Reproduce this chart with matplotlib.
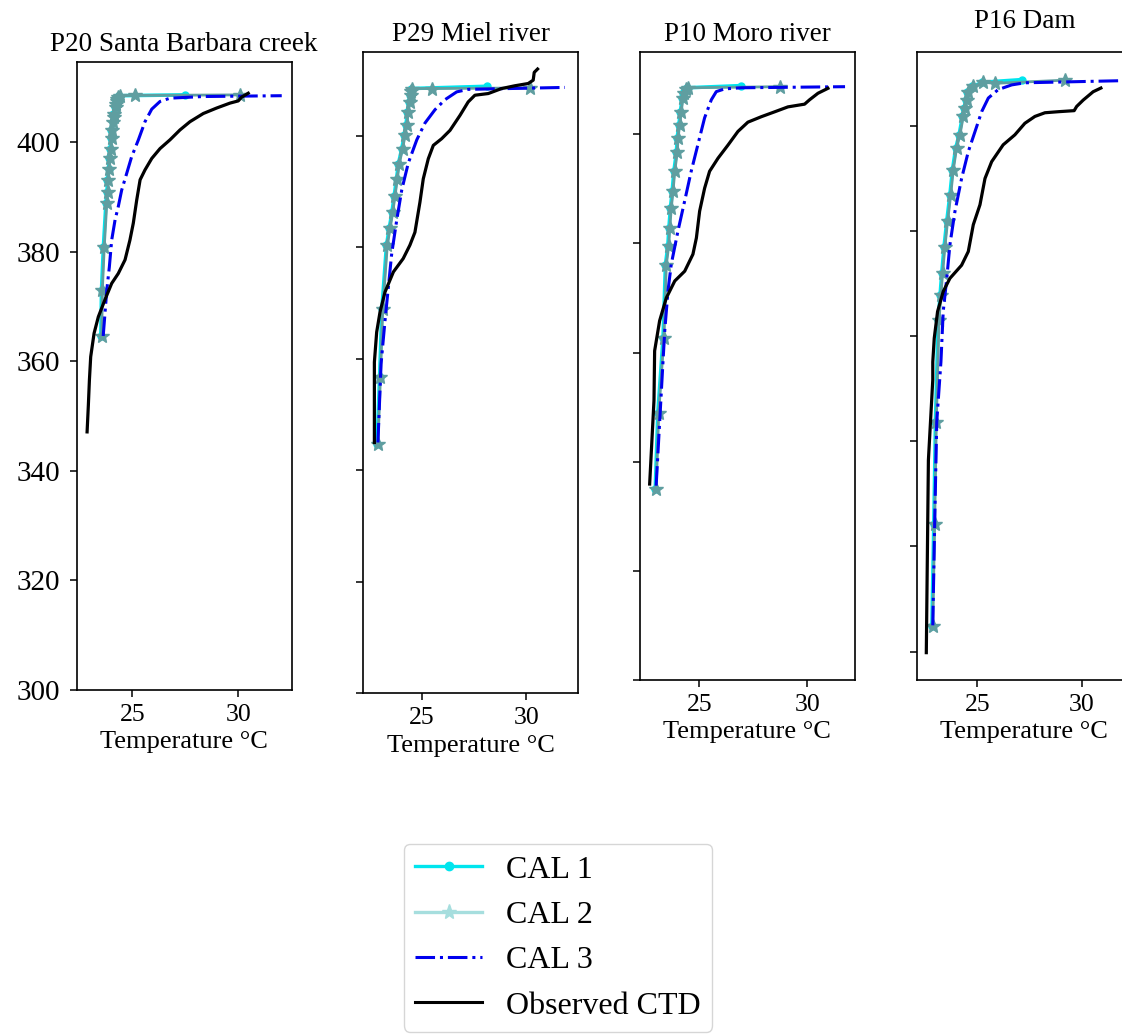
import matplotlib
matplotlib.use("Agg")
import matplotlib.pyplot as plt
from matplotlib.lines import Line2D

plt.rcParams['font.family'] = ['Liberation Serif', 'DejaVu Serif']

# ---------------- data (temperature °C vs. elevation) ----------------
titles = ["P20 Santa Barbara creek", "P29 Miel river", "P10 Moro river", "P16 Dam"]
xticks = [25, 30]
yticks = [300, 320, 340, 360, 380, 400]
legend_labels = ["CAL 1", "CAL 2", "CAL 3", "Observed CTD"]

# P20
p20_cal1_z = [364.6, 373.0, 380.9, 388.9, 390.9, 393.1, 395.0, 397.0, 398.8, 400.7, 402.2, 403.7, 405.2, 406.4, 407.5, 408.2, 408.45, 408.6]
p20_cal1_t = [23.52, 23.55, 23.64, 23.76, 23.81, 23.83, 23.88, 23.91, 23.96, 23.99, 24.02, 24.07, 24.11, 24.18, 24.23, 24.27, 24.38, 27.49]
p20_cal2_z = [364.6, 373.0, 380.9, 388.9, 390.9, 393.1, 395.0, 397.0, 398.8, 400.7, 402.2, 403.7, 404.5, 405.2, 406.4, 406.9, 407.5, 407.9, 408.2, 408.45, 408.5, 408.6]
p20_cal2_t = [23.56, 23.59, 23.68, 23.80, 23.85, 23.87, 23.92, 23.95, 24.00, 24.03, 24.06, 24.11, 24.13, 24.15, 24.22, 24.24, 24.27, 24.29, 24.31, 24.42, 25.13, 30.08]
p20_cal3_z = [364.6, 373.0, 377.2, 382.1, 385.8, 388.2, 391.2, 394.3, 397.3, 400.4, 403.7, 406.0, 407.4, 408.0, 408.3, 408.45]
p20_cal3_t = [23.63, 23.80, 23.92, 24.03, 24.19, 24.34, 24.50, 24.74, 24.97, 25.29, 25.60, 25.92, 26.31, 26.78, 28.35, 32.05]
p20_obs_z = [347.1, 352.0, 356.6, 360.8, 365.1, 368.1, 371.2, 374.2, 376.0, 378.5, 382.1, 385.2, 389.4, 393.1, 394.9, 397.0, 398.8, 400.4, 402.2, 403.7, 405.2, 406.2, 407.1, 407.5, 408.2, 408.9]
p20_obs_t = [22.87, 22.93, 22.98, 23.04, 23.20, 23.40, 23.71, 24.03, 24.34, 24.66, 24.89, 25.05, 25.21, 25.37, 25.60, 25.92, 26.31, 26.78, 27.25, 27.72, 28.35, 28.98, 29.61, 30.00, 30.16, 30.47]

# P29
p29_cal1_z = [344.7, 356.7, 369.0, 380.4, 383.4, 386.3, 389.3, 392.3, 395.0, 397.7, 400.1, 401.9, 404.3, 406.1, 407.3, 408.0, 408.5, 408.9]
p29_cal1_t = [22.86, 22.98, 23.09, 23.31, 23.44, 23.57, 23.68, 23.79, 23.88, 24.04, 24.16, 24.24, 24.31, 24.39, 24.43, 24.46, 24.48, 28.10]
p29_cal2_z = [344.7, 356.7, 369.0, 380.4, 383.4, 386.3, 389.3, 392.3, 395.0, 397.7, 400.1, 401.9, 404.3, 406.1, 407.3, 408.0, 408.5, 408.5, 408.6]
p29_cal2_t = [22.90, 23.02, 23.13, 23.35, 23.48, 23.61, 23.72, 23.83, 23.92, 24.08, 24.20, 24.28, 24.35, 24.43, 24.47, 24.50, 24.52, 25.47, 30.18]
p29_cal3_z = [345.0, 359.1, 366.9, 372.9, 378.9, 384.9, 390.3, 395.1, 399.3, 402.3, 404.7, 406.5, 407.9, 408.35, 408.7]
p29_cal3_t = [22.90, 23.05, 23.24, 23.40, 23.56, 23.80, 24.04, 24.35, 24.76, 25.15, 25.63, 26.11, 26.67, 27.22, 31.85]
p29_obs_z = [345.0, 359.4, 364.8, 368.4, 372.0, 375.6, 378.0, 380.4, 382.7, 388.1, 392.3, 395.9, 398.3, 399.5, 401.0, 403.7, 406.1, 407.3, 407.6, 408.5, 409.0, 409.4, 410.0, 411.4, 412.0]
p29_obs_t = [22.73, 22.73, 22.84, 23.00, 23.24, 23.64, 24.11, 24.43, 24.67, 24.91, 25.07, 25.31, 25.55, 25.95, 26.35, 26.83, 27.22, 27.54, 28.18, 28.82, 29.46, 30.09, 30.33, 30.38, 30.54]

# P10
p10_cal1_z = [335.0, 349.0, 362.7, 376.1, 379.5, 382.8, 386.5, 389.5, 393.2, 396.8, 399.3, 401.7, 404.1, 406.6, 407.6, 408.2, 408.5, 408.9]
p10_cal1_t = [22.97, 23.09, 23.33, 23.44, 23.55, 23.60, 23.67, 23.75, 23.83, 23.95, 23.98, 24.06, 24.13, 24.21, 24.26, 24.34, 24.44, 26.95]
p10_cal2_z = [335.0, 349.0, 362.7, 376.1, 379.5, 382.8, 386.5, 389.5, 393.2, 396.8, 399.3, 401.7, 404.1, 406.6, 407.6, 408.2, 408.5, 408.7]
p10_cal2_t = [23.01, 23.13, 23.37, 23.48, 23.59, 23.64, 23.71, 23.79, 23.87, 23.99, 24.02, 24.10, 24.17, 24.25, 24.30, 24.38, 24.48, 28.72]
p10_cal3_z = [335.6, 358.6, 364.1, 371.4, 376.2, 382.3, 387.8, 393.2, 398.1, 403.0, 406.3, 407.8, 408.3, 408.5, 408.7]
p10_cal3_t = [23.01, 23.33, 23.41, 23.56, 23.71, 24.02, 24.33, 24.63, 24.94, 25.25, 25.56, 25.79, 26.18, 26.95, 31.74]
p10_obs_z = [335.9, 351.2, 360.3, 365.8, 370.0, 373.1, 374.9, 378.0, 381.0, 385.9, 390.1, 393.2, 395.6, 398.0, 400.5, 402.2, 403.2, 404.1, 405.0, 405.5, 406.3, 407.5, 408.4]
p10_obs_t = [22.71, 22.91, 22.94, 23.17, 23.48, 23.87, 24.33, 24.71, 24.87, 25.02, 25.25, 25.48, 25.87, 26.33, 26.79, 27.25, 27.87, 28.49, 29.10, 29.87, 30.10, 30.49, 30.95]

# P16
p16_cal1_z = [304.9, 324.3, 343.7, 363.1, 367.8, 372.0, 377.0, 381.9, 386.9, 391.6, 395.8, 398.3, 401.8, 403.4, 404.9, 406.5, 407.5, 408.3, 408.8]
p16_cal1_t = [22.82, 22.91, 22.99, 23.12, 23.21, 23.29, 23.40, 23.53, 23.68, 23.80, 23.96, 24.12, 24.28, 24.36, 24.44, 24.52, 24.76, 25.24, 27.11]
p16_cal2_z = [304.9, 324.3, 343.7, 363.1, 367.8, 372.0, 377.0, 381.9, 386.9, 391.6, 395.8, 398.3, 401.8, 403.4, 404.9, 406.5, 407.5, 408.3, 408.1, 408.7]
p16_cal2_t = [22.86, 22.95, 23.03, 23.16, 23.25, 23.33, 23.44, 23.57, 23.72, 23.84, 24.00, 24.16, 24.32, 24.40, 24.48, 24.56, 24.80, 25.28, 25.84, 29.19]
p16_cal3_z = [305.0, 324.3, 343.7, 355.1, 364.7, 371.0, 377.4, 383.7, 390.0, 395.1, 398.9, 402.7, 405.3, 406.9, 407.8, 408.2, 408.6]
p16_cal3_t = [22.86, 22.95, 23.05, 23.25, 23.36, 23.53, 23.68, 23.92, 24.24, 24.56, 24.88, 25.20, 25.52, 25.99, 26.64, 27.27, 31.90]
p16_obs_z = [299.8, 336.4, 351.7, 355.1, 359.6, 364.7, 368.5, 371.0, 373.5, 376.1, 381.2, 385.0, 390.0, 393.2, 396.4, 398.3, 400.5, 401.8, 402.5, 402.7, 402.9, 403.7, 404.9, 406.5, 407.2]
p16_obs_t = [22.55, 22.65, 22.86, 22.86, 22.93, 23.09, 23.36, 23.68, 24.24, 24.56, 24.80, 25.12, 25.36, 25.68, 26.23, 26.79, 27.27, 27.75, 28.23, 28.87, 29.63, 29.75, 30.06, 30.54, 30.91]

panels = [
    (p20_cal1_t, p20_cal1_z, p20_cal2_t, p20_cal2_z, p20_cal3_t, p20_cal3_z, p20_obs_t, p20_obs_z),
    (p29_cal1_t, p29_cal1_z, p29_cal2_t, p29_cal2_z, p29_cal3_t, p29_cal3_z, p29_obs_t, p29_obs_z),
    (p10_cal1_t, p10_cal1_z, p10_cal2_t, p10_cal2_z, p10_cal3_t, p10_cal3_z, p10_obs_t, p10_obs_z),
    (p16_cal1_t, p16_cal1_z, p16_cal2_t, p16_cal2_z, p16_cal3_t, p16_cal3_z, p16_obs_t, p16_obs_z),
]

# ---------------- layout (pixel boxes of the four panels) ----------------
W, H = 1122, 1034
boxes = [(76.7, 62.0, 291.7, 690.0),
         (363.3, 52.3, 577.7, 693.3),
         (639.7, 52.3, 855.0, 680.0),
         (916.7, 52.3, 1132.0, 680.0)]
xlims = [(22.38, 32.52), (22.2, 32.46), (22.25, 32.2), (22.09, 32.4)]
ylims = [(300, 414.6), (300, 415.0), (300, 415.0), (294.6, 414.0)]
title_pos = [(184.2, 50.7), (470.5, 40.7), (747.3, 40.7), (1024.4, 28.3)]

C_CAL1 = "#00e5ee"
C_CAL2 = "#5f9ea0"
C_CAL2_LEG = "#a6dede"
C_CAL3 = "#0000ee"

fig = plt.figure(figsize=(W / 100, H / 100), dpi=100)
fig.patch.set_facecolor("white")

for i, (data, box) in enumerate(zip(panels, boxes)):
    l, t, r, b = box
    ax = fig.add_axes([l / W, 1 - b / H, (r - l) / W, (b - t) / H])
    c1t, c1z, c2t, c2z, c3t, c3z, ot, oz = data
    ax.plot(c1t, c1z, color=C_CAL1, lw=2.6, marker='o', ms=5, zorder=2)
    ax.plot(c2t, c2z, color=C_CAL2, lw=2.0, marker='*', ms=10, zorder=3)
    ax.plot(c3t, c3z, color=C_CAL3, lw=2.2, ls='-.', zorder=4)
    ax.plot(ot, oz, color='black', lw=2.3, zorder=5)
    ax.set_xlim(*xlims[i])
    ax.set_ylim(*ylims[i])
    ax.set_xticks(xticks)
    ax.set_yticks(yticks)
    ax.tick_params(axis='x', labelsize=18.5, length=5, width=1.1, pad=5)
    ax.tick_params(axis='y', labelsize=21, length=5, width=1.1, pad=7)
    if i > 0:
        ax.set_yticklabels([])
    for s in ax.spines.values():
        s.set_linewidth(1.2)
    ax.set_xlabel("Temperature °C", fontsize=19, labelpad=4)
    tx, ty = title_pos[i]
    fig.text(tx / W, 1 - ty / H, titles[i], ha='center', va='baseline', fontsize=19.5)

handles = [
    Line2D([], [], color=C_CAL1, lw=2.4, marker='o', ms=6),
    Line2D([], [], color=C_CAL2_LEG, lw=2.4, marker='*', ms=11),
    Line2D([], [], color=C_CAL3, lw=2.2, ls='-.'),
    Line2D([], [], color='black', lw=2.2),
]
fig.legend(handles, legend_labels, loc='upper left',
           bbox_to_anchor=(404 / W, 1 - 844 / H), fontsize=23,
           handlelength=2.1, handletextpad=0.75, labelspacing=0.5,
           borderpad=0.35, borderaxespad=0.0, frameon=True)

fig.savefig("out.png", dpi=100)
